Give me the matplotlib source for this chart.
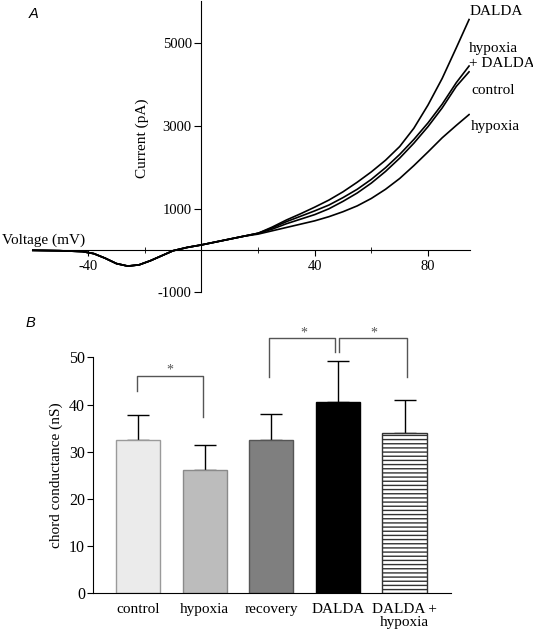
import matplotlib
matplotlib.use('Agg')
import matplotlib.pyplot as plt

# ---- panel A: current-voltage traces ----
voltage = [-60, -50, -42, -38, -34, -30, -26, -22, -18, -14, -10, -5, 0, 5, 10, 15,
           20, 25, 30, 35, 40, 45, 50, 55, 60, 65, 70, 75, 80, 85, 90, 94.5]
iv_low = [0, -10, -30, -80, -190, -320, -380, -350, -250, -130, -10, 70, 130, 200, 270, 340]
iv_dalda = [410, 560, 730, 880, 1040, 1210, 1410, 1640, 1890, 2170, 2500, 2940, 3500, 4140, 4880, 5560]
iv_hyp_dalda = [410, 540, 690, 820, 950, 1090, 1270, 1470, 1710, 1990, 2310, 2670, 3070, 3520, 4040, 4440]
iv_control = [410, 510, 640, 750, 860, 1000, 1180, 1380, 1620, 1900, 2220, 2580, 2980, 3430, 3950, 4300]
iv_hypoxia = [390, 470, 550, 630, 710, 810, 930, 1070, 1250, 1470, 1730, 2040, 2370, 2710, 3010, 3270]

# ---- panel B: chord conductance ----
groups = ['control', 'hypoxia', 'recovery', 'DALDA', 'DALDA +\nhypoxia']
conductance = [32.4, 26.1, 32.4, 40.5, 33.9]
sem = [5.4, 5.3, 5.5, 8.7, 7.0]
bar_colors = ['#ebebeb', '#bcbcbc', '#7f7f7f', '#000000', '#ffffff']
bar_edges = ['#9a9a9a', '#8a8a8a', '#555555', '#000000', '#333333']

plt.rcParams['font.family'] = ['Liberation Serif', 'DejaVu Serif']
plt.rcParams['font.size'] = 10
plt.rcParams['hatch.linewidth'] = 1.0
plt.rcParams['axes.unicode_minus'] = False

fig = plt.figure(figsize=(5.33, 6.33), dpi=100)

# panel A
ax = fig.add_axes([0.0591, 0.539, 0.8236, 0.459])
for tr in [iv_dalda, iv_hyp_dalda, iv_control, iv_hypoxia]:
    ax.plot(voltage, iv_low + tr, color='black', lw=1.2)
ax.set_xlim(-60, 95)
ax.set_ylim(-1000, 6000)
ax.spines['left'].set_position(('data', 0))
ax.spines['bottom'].set_position(('data', 0))
ax.spines['top'].set_visible(False)
ax.spines['right'].set_visible(False)
ax.set_xticks([-40, 40, 80])
ax.set_xticks([-20, 20, 60], minor=True)
ax.set_yticks([-1000, 1000, 3000, 5000])
ax.tick_params(axis='x', direction='out', length=4, pad=3, labelsize=10.5)
ax.tick_params(axis='x', which='minor', direction='inout', length=4)
ax.tick_params(axis='y', direction='out', length=5, pad=2, labelsize=10.5)

fig.text(496.7 / 533, 1 - 11.7 / 633, 'DALDA', ha='center', va='center', fontsize=11)
fig.text(493 / 533, 1 - 48.3 / 633, 'hypoxia', ha='center', va='center', fontsize=11)
fig.text(501.5 / 533, 1 - 63.8 / 633, '+ DALDA', ha='center', va='center', fontsize=11)
fig.text(493 / 533, 1 - 90.7 / 633, 'control', ha='center', va='center', fontsize=11)
fig.text(495 / 533, 1 - 126 / 633, 'hypoxia', ha='center', va='center', fontsize=11)
fig.text(1.5 / 533, 1 - 240.5 / 633, 'Voltage (mV)', ha='left', va='center', fontsize=11)
fig.text(142.5 / 533, 1 - 138 / 633, 'Current (pA)', ha='center', va='center',
         rotation=90, fontsize=11)
fig.text(34 / 533, 1 - 14 / 633, 'A', ha='center', va='center', fontsize=10.5,
         family='Liberation Sans', style='italic')

# panel B
bx = fig.add_axes([0.1751, 0.0627, 0.6702, 0.3728])
pos = list(range(len(groups)))
bars = bx.bar(pos, conductance, width=0.665, color=bar_colors, edgecolor=bar_edges,
              linewidth=1.0, zorder=2)
bars[4].set_hatch('----')
bx.errorbar(pos, conductance, yerr=[[0] * len(sem), sem], fmt='none', ecolor='black',
            elinewidth=1.0, capsize=8, capthick=1.0, zorder=1)
bx.set_xlim(-0.671, 4.69)
bx.set_ylim(0, 50)
bx.set_yticks([0, 10, 20, 30, 40, 50])
bx.set_xticks(pos)
bx.set_xticklabels(groups, fontsize=11, linespacing=1.0)
bx.tick_params(axis='x', length=0, pad=7)
bx.tick_params(axis='y', direction='out', length=4, pad=2, labelsize=11.5)
bx.spines['top'].set_visible(False)
bx.spines['right'].set_visible(False)
bx.set_ylabel('chord conductance (nS)', fontsize=11, labelpad=4)

# significance brackets
brk = '#555555'
bx.plot([-0.02, -0.02, 0.98, 0.98], [42.9, 46.0, 46.0, 37.4], color=brk, lw=1.0, clip_on=False)
bx.plot([1.97, 1.97, 2.96, 2.96], [45.8, 54.0, 54.0, 51.1], color=brk, lw=1.0, clip_on=False)
bx.plot([3.02, 3.02, 4.03, 4.03], [51.1, 54.0, 54.0, 45.8], color=brk, lw=1.0, clip_on=False)
for x, y in [(0.47, 47.3), (2.49, 55.2), (3.54, 55.2)]:
    bx.text(x, y, '*', ha='center', va='center', color=brk, fontsize=10, clip_on=False)
fig.text(30 / 533, 1 - 322.7 / 633, 'B', ha='center', va='center', fontsize=10.5,
         family='Liberation Sans', style='italic')

fig.savefig('out.png', dpi=100)
